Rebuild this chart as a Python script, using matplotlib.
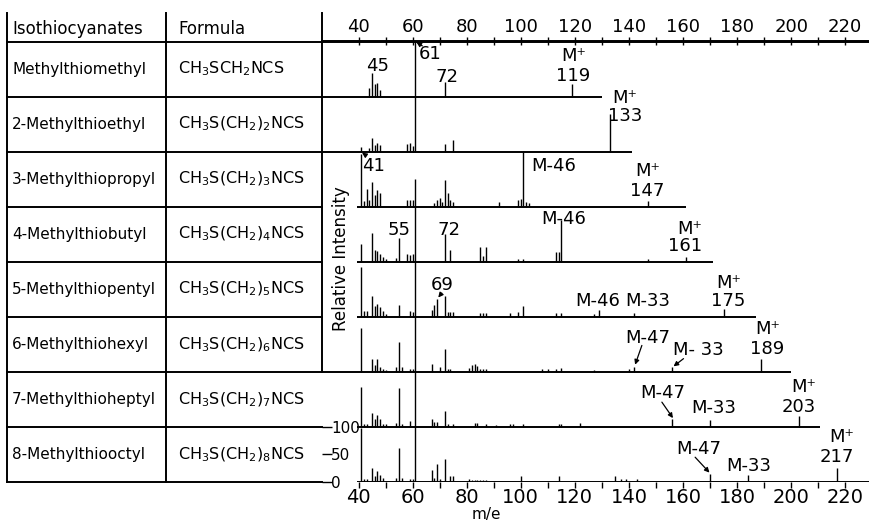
import matplotlib.pyplot as plt
import numpy as np

plt.rcParams.update({"font.family": "DejaVu Sans", "font.size": 12})

W, H = 869, 522
ROW0 = 41.5      # header line (px)
ROW_H = 55.06    # height of one table row (px)

# ---- table contents ----
names = [
    "Methylthiomethyl", "2-Methylthioethyl", "3-Methylthiopropyl",
    "4-Methylthiobutyl", "5-Methylthiopentyl", "6-Methylthiohexyl",
    "7-Methylthioheptyl", "8-Methylthiooctyl",
]
formulas = [
    r"$\mathregular{CH_3SCH_2NCS}$",
    r"$\mathregular{CH_3S(CH_2)_2NCS}$",
    r"$\mathregular{CH_3S(CH_2)_3NCS}$",
    r"$\mathregular{CH_3S(CH_2)_4NCS}$",
    r"$\mathregular{CH_3S(CH_2)_5NCS}$",
    r"$\mathregular{CH_3S(CH_2)_6NCS}$",
    r"$\mathregular{CH_3S(CH_2)_7NCS}$",
    r"$\mathregular{CH_3S(CH_2)_8NCS}$",
]

# ---- spectra (m/e, relative intensity %) ----
mz_1 = [44, 45, 46, 47, 48, 61, 72, 119]
int_1 = [15, 42, 22, 25, 12, 100, 27, 22]

mz_2 = [41, 44, 45, 46, 47, 48, 58, 59, 60, 61, 72, 75, 133]
int_2 = [9, 7, 24, 12, 16, 12, 13, 16, 10, 100, 13, 22, 69]

mz_3 = [41, 42, 43, 44, 45, 46, 47, 48, 58, 59, 60, 61, 68, 69, 70, 71, 72, 73,
        74, 75, 92, 99, 100, 101, 102, 103, 147]
int_3 = [95, 10, 33, 12, 44, 22, 31, 25, 12, 12, 12, 50, 6, 13, 15, 9, 48, 25,
         13, 9, 8, 13, 14, 100, 9, 6, 11]

mz_4 = [41, 45, 46, 47, 48, 49, 50, 54, 55, 58, 59, 60, 61, 72, 74, 85, 86, 87,
        99, 101, 113, 114, 115, 147, 161]
int_4 = [32, 53, 21, 20, 14, 8, 5, 7, 43, 14, 12, 14, 100, 50, 21, 27, 10, 27,
         5, 5, 18, 18, 76, 5, 9]

mz_5 = [41, 42, 43, 45, 46, 47, 48, 49, 50, 55, 59, 60, 61, 67, 68, 69, 72, 73,
        74, 75, 85, 86, 87, 96, 99, 101, 113, 115, 127, 129, 142, 175]
int_5 = [91, 11, 10, 38, 20, 23, 17, 10, 5, 22, 10, 8, 100, 13, 22, 33, 38, 8,
         8, 8, 7, 7, 7, 6, 8, 19, 7, 7, 5, 13, 7, 14]

mz_6 = [41, 45, 46, 47, 48, 49, 50, 54, 55, 56, 59, 60, 61, 67, 70, 72, 73, 74,
        81, 82, 83, 84, 85, 86, 87, 108, 110, 113, 115, 127, 140, 142, 156, 189]
int_6 = [80, 24, 12, 24, 9, 6, 4, 9, 55, 9, 5, 5, 100, 15, 9, 42, 5, 5,
         7, 12, 15, 10, 5, 5, 5, 5, 5, 5, 7, 4, 5, 9, 8, 24]

mz_7 = [41, 42, 43, 45, 46, 47, 48, 49, 50, 54, 55, 56, 59, 61, 67, 68, 69, 72,
        73, 75, 83, 84, 87, 91, 96, 97, 101, 114, 115, 122, 156, 170, 203]
int_7 = [73, 5, 5, 25, 15, 22, 15, 6, 5, 7, 71, 6, 10, 100, 15, 9, 9, 29,
         6, 5, 8, 8, 5, 4, 5, 5, 6, 5, 6, 8, 14, 12, 19]

mz_8 = [41, 42, 43, 45, 46, 47, 48, 49, 54, 55, 56, 59, 60, 61, 67, 68, 69, 70,
        72, 74, 75, 81, 82, 83, 84, 85, 86, 87, 100, 114, 135, 137, 139, 143,
        170, 184, 217]
int_8 = [98, 6, 6, 25, 11, 20, 13, 8, 8, 61, 8, 5, 5, 100, 22, 8, 33, 6,
         42, 11, 11, 5, 4, 4, 4, 4, 4, 4, 11, 11, 11, 5, 5, 5, 15, 12, 25]

spectra = [(mz_1, int_1), (mz_2, int_2), (mz_3, int_3), (mz_4, int_4),
           (mz_5, int_5), (mz_6, int_6), (mz_7, int_7), (mz_8, int_8)]

# where each spectrum baseline starts / ends (m/e)
base_start = [26.5, 26.5, 39.3, 39.3, 39.3, 26.5, 39.3, 39.3]
base_end = [130, 141, 161, 171, 187, 200, 210.5, 229]

# peak labels: (text, m/e, % of row height)
peak_labels = [
    [("45", 47.2, 55), ("61", 66.5, 77), ("72", 72.8, 35),
     ("M⁺", 119.4, 74), ("119", 119.4, 38)],
    [("M⁺", 138.6, 98), ("133", 138.6, 64)],
    [("41", 45.6, 73), ("M-46", 112.3, 73), ("M⁺", 146.9, 64), ("147", 146.9, 28)],
    [("55", 55.0, 58), ("72", 73.3, 57), ("M-46", 115.7, 77),
     ("M⁺", 162.4, 60), ("161", 160.8, 28)],
    [("69", 71.1, 58), ("M-46", 128.4, 28), ("M-33", 146.9, 28),
     ("M⁺", 177.0, 62), ("175", 176.8, 28)],
    [("M-47", 146.9, 61), ("M- 33", 165.6, 39), ("M⁺", 191.3, 77), ("189", 191.0, 42)],
    [("M-47", 152.5, 61), ("M-33", 171.3, 34), ("M⁺", 204.6, 72), ("203", 203.0, 36)],
    [("M-47", 165.7, 60), ("M-33", 184.2, 29), ("M⁺", 218.7, 82), ("217", 216.9, 45)],
]

# arrows: (row, from m/e, from %, to m/e, to %)
arrows = [
    (0, 63.6, 92, 61.4, 99),
    (2, 42.8, 93, 41.3, 98),
    (4, 70.8, 43, 69.5, 35),
    (5, 144.8, 48, 142.3, 13),
    (5, 160.2, 24, 156.5, 10),
    (6, 152.2, 45, 156.3, 16),
    (7, 164.5, 45, 169.8, 17),
]

top_ticks = list(range(40, 221, 20))

fig = plt.figure(figsize=(W / 100, H / 100), dpi=100)

# ---- table part, in pixel coordinates ----
tab = fig.add_axes([0, 0, 1, 1])
tab.set_xlim(0, W)
tab.set_ylim(H, 0)
tab.axis("off")

table_bottom = ROW0 + 8 * ROW_H
for k in range(9):
    y = ROW0 + k * ROW_H
    tab.plot([7, 322], [y, y], color="black", lw=1.4)
tab.plot([7, 7], [13, table_bottom], color="black", lw=1.4)
tab.plot([166, 166], [13, table_bottom], color="black", lw=1.4)
tab.plot([322, 322], [13, ROW0 + 6 * ROW_H], color="black", lw=1.4)

tab.text(12, 29, "Isothiocyanates", va="center")
tab.text(178, 29, "Formula", va="center")
for i, (name, formula) in enumerate(zip(names, formulas)):
    yc = ROW0 + (i + 0.5) * ROW_H
    tab.text(12, yc, name, va="center", fontsize=11)
    tab.text(178, yc, formula, va="center", fontsize=11.5)

tab.text(341, 259, "Relative Intensity", rotation=90, ha="center", va="center")
tab.text(486, 515, "m/e", ha="center", va="center", fontsize=11)

# ---- spectra ----
ax = fig.add_axes([322 / W, 1 - table_bottom / H, (W - 322) / W, 8 * ROW_H / H])
ax.set_xlim(26.5, 228.8)
ax.set_ylim(0, 800)
ax.patch.set_alpha(0)

for i, (mz, inten) in enumerate(spectra):
    base = (7 - i) * 100
    ax.vlines(mz, base, base + np.array(inten), color="black", lw=1.0)
    ax.hlines(base, base_start[i], base_end[i], color="black", lw=1.4)
    for txt, m, p in peak_labels[i]:
        ax.text(m, base + p, txt, ha="center", va="center", fontsize=13)

for row, m0, p0, m1, p1 in arrows:
    base = (7 - row) * 100
    ax.annotate("", xy=(m1, base + p1), xytext=(m0, base + p0),
                arrowprops=dict(arrowstyle="-|>", lw=0.9, color="black",
                                mutation_scale=7, shrinkA=0, shrinkB=0))

for side in ["left", "right", "bottom"]:
    ax.spines[side].set_visible(False)
ax.spines["top"].set_linewidth(1.4)

ax.set_xticks(top_ticks)
ax.set_xticks(list(range(50, 211, 20)), minor=True)
ax.tick_params(axis="x", which="both", direction="out", length=4, width=1.0,
               labelsize=14, pad=0.5)

ax.set_yticks([0, 50, 100])
ax.set_yticklabels(["0", "50", "100"])
ax.tick_params(axis="y", direction="in", length=7, width=1.0, labelsize=11, pad=-6.5)
for lab in ax.get_yticklabels():
    lab.set_horizontalalignment("left")

top = ax.secondary_xaxis("top")
top.set_xticks(top_ticks)
top.set_xticks(list(range(50, 211, 20)), minor=True)
top.tick_params(axis="x", which="both", direction="inout", length=6, width=1.0,
                labelsize=13, pad=1)
top.spines["top"].set_linewidth(1.4)

fig.savefig("out.png", dpi=100)
